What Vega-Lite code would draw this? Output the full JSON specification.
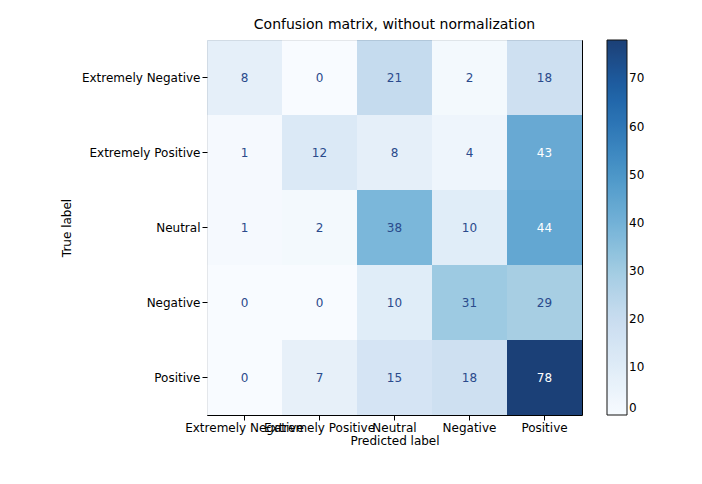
{
  "$schema": "https://vega.github.io/schema/vega-lite/v6.json",
  "width": 375,
  "height": 375,
  "autosize": "none",
  "padding": {"left": 207, "top": 40, "right": 120, "bottom": 69},
  "background": "white",
  "config": {
    "font": "DejaVu Sans",
    "view": {"stroke": "black", "strokeWidth": 1}
  },
  "title": {"text": "Confusion matrix, without normalization", "fontSize": 14, "fontWeight": "normal", "offset": 8, "color": "black"},
  "data": {
    "values": [
      {"t": "Extremely Negative", "p": "Extremely Negative", "n": 8},
      {"t": "Extremely Negative", "p": "Extremely Positive", "n": 0},
      {"t": "Extremely Negative", "p": "Neutral", "n": 21},
      {"t": "Extremely Negative", "p": "Negative", "n": 2},
      {"t": "Extremely Negative", "p": "Positive", "n": 18},
      {"t": "Extremely Positive", "p": "Extremely Negative", "n": 1},
      {"t": "Extremely Positive", "p": "Extremely Positive", "n": 12},
      {"t": "Extremely Positive", "p": "Neutral", "n": 8},
      {"t": "Extremely Positive", "p": "Negative", "n": 4},
      {"t": "Extremely Positive", "p": "Positive", "n": 43},
      {"t": "Neutral", "p": "Extremely Negative", "n": 1},
      {"t": "Neutral", "p": "Extremely Positive", "n": 2},
      {"t": "Neutral", "p": "Neutral", "n": 38},
      {"t": "Neutral", "p": "Negative", "n": 10},
      {"t": "Neutral", "p": "Positive", "n": 44},
      {"t": "Negative", "p": "Extremely Negative", "n": 0},
      {"t": "Negative", "p": "Extremely Positive", "n": 0},
      {"t": "Negative", "p": "Neutral", "n": 10},
      {"t": "Negative", "p": "Negative", "n": 31},
      {"t": "Negative", "p": "Positive", "n": 29},
      {"t": "Positive", "p": "Extremely Negative", "n": 0},
      {"t": "Positive", "p": "Extremely Positive", "n": 7},
      {"t": "Positive", "p": "Neutral", "n": 15},
      {"t": "Positive", "p": "Negative", "n": 18},
      {"t": "Positive", "p": "Positive", "n": 78}
    ]
  },
  "encoding": {
    "x": {
      "field": "p", "type": "nominal", "title": "Predicted label",
      "sort": ["Extremely Negative", "Extremely Positive", "Neutral", "Negative", "Positive"],
      "scale": {"paddingInner": 0, "paddingOuter": 0},
      "axis": {"labelAngle": 0, "labelOverlap": false, "labelFontSize": 12, "labelColor": "black", "titleFontSize": 12, "titleFontWeight": "normal", "titleColor": "black", "domain": false, "tickColor": "black", "titlePadding": 2}
    },
    "y": {
      "field": "t", "type": "nominal", "title": "True label",
      "sort": ["Extremely Negative", "Extremely Positive", "Neutral", "Negative", "Positive"],
      "scale": {"paddingInner": 0, "paddingOuter": 0},
      "axis": {"labelFontSize": 12, "labelColor": "black", "titleFontSize": 12, "titleFontWeight": "normal", "titleColor": "black", "domain": false, "tickColor": "black", "titlePadding": 8}
    }
  },
  "layer": [
    {
      "mark": {"type": "rect", "opacity": 0.92},
      "encoding": {
        "color": {
          "field": "n", "type": "quantitative", "title": null,
          "scale": {"domain": [0, 78], "range": ["#f7fbff", "#deebf7", "#c6dbef", "#9ecae1", "#6baed6", "#4292c6", "#2171b5", "#08519c", "#08306b"]},
          "legend": {"gradientLength": 375, "gradientThickness": 20, "offset": 25, "values": [0, 10, 20, 30, 40, 50, 60, 70], "labelFontSize": 12, "labelColor": "black", "gradientStrokeColor": "black", "gradientStrokeWidth": 1}
        }
      }
    },
    {
      "mark": {"type": "text", "fontSize": 12},
      "encoding": {
        "text": {"field": "n", "type": "quantitative"},
        "color": {
          "condition": {"test": "datum.n >= 39", "value": "white"},
          "value": "#2a4a8c"
        }
      }
    }
  ]
}
